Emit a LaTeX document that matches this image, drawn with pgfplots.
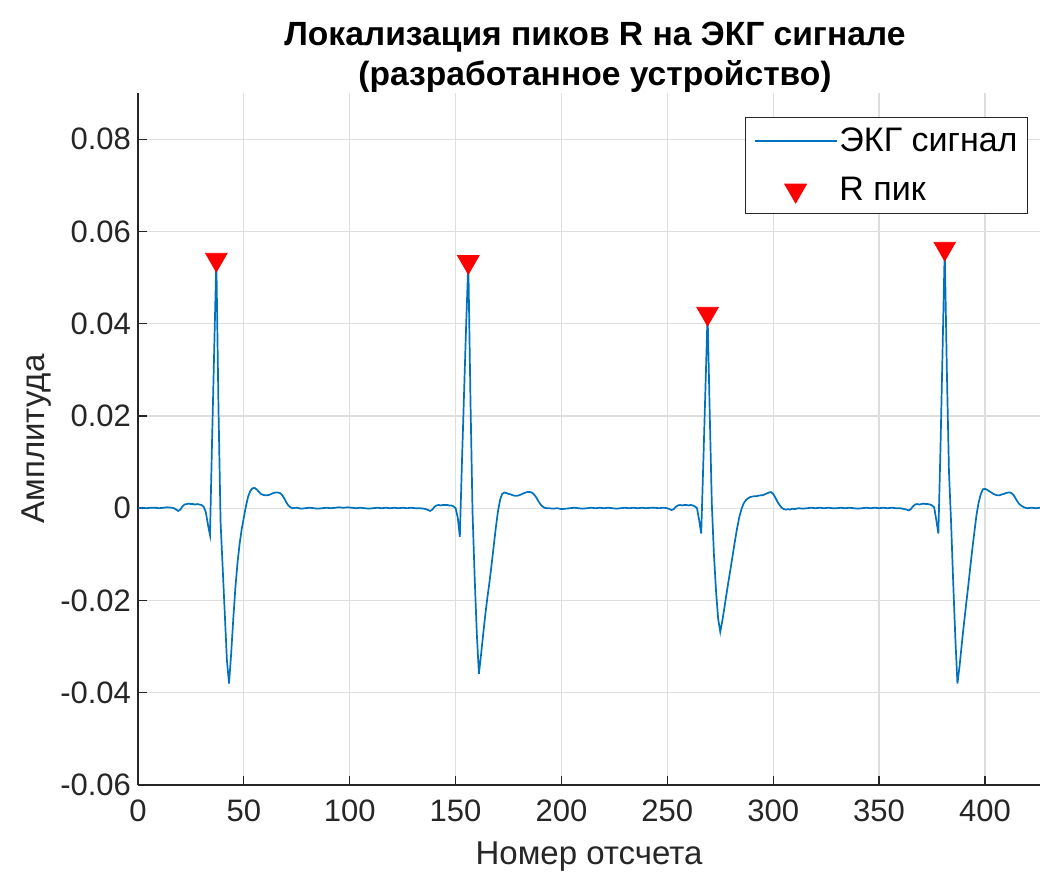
\documentclass[border=0pt]{standalone}
\usepackage{fontspec}
\setmainfont{Liberation Sans}
\usepackage{pgfplots}
\usepackage{pgfplotstable}
\pgfplotsset{compat=1.18}
\definecolor{ecg}{RGB}{0,114,189}
\definecolor{axgray}{RGB}{38,38,38}
\pgfplotsset{
  linelegend/.style={legend image code/.code={\draw[##1] (0pt,0pt) -- (41pt,0pt);}},
  marklegend/.style={legend image code/.code={\draw[mark repeat=2,mark phase=2,##1] plot coordinates {(0pt,0pt) (20.5pt,0pt) (41pt,0pt)};}},
}

\pgfplotstableread{
x y
0 0.0000
2 0.0001
4 0.0000
6 0.0001
8 0.0001
10 0.0000
12 0.0001
14 0.0002
16 0.0001
17 0.0000
18 -0.0003
19 -0.0006
20 -0.0003
21 0.0004
22 0.0008
23 0.0009
24 0.0010
25 0.0009
26 0.0009
27 0.0008
28 0.0009
29 0.0008
30 0.0007
31 0.0003
32 -0.0008
33 -0.0035
34 -0.0058
35 0.0150
36 0.0345
37 0.0539
38 0.0220
39 -0.0030
40 -0.0130
41 -0.0230
42 -0.0330
43 -0.0380
44 -0.0315
45 -0.0240
46 -0.0172
47 -0.0118
48 -0.0077
49 -0.0045
50 -0.0020
51 0.0005
52 0.0025
53 0.0037
54 0.0043
55 0.0044
56 0.0041
57 0.0036
58 0.0031
59 0.0029
60 0.0028
61 0.0028
62 0.0029
63 0.0031
64 0.0033
65 0.0034
66 0.0034
67 0.0033
68 0.0029
69 0.0022
70 0.0013
71 0.0006
72 0.0002
73 0.0000
75 0.0001
77 -0.0001
79 0.0000
81 0.0001
83 0.0000
85 -0.0001
87 0.0000
89 0.0001
91 0.0000
93 0.0001
95 0.0002
97 0.0001
99 0.0002
101 0.0001
103 0.0000
105 0.0001
107 0.0000
109 -0.0001
111 0.0000
113 0.0001
115 0.0000
117 0.0001
119 0.0000
121 0.0001
123 0.0000
125 0.0001
127 0.0000
129 0.0001
131 0.0000
133 0.0000
135 -0.0001
136 -0.0002
137 -0.0004
138 -0.0006
139 -0.0003
140 0.0003
141 0.0006
142 0.0007
143 0.0006
144 0.0007
145 0.0007
146 0.0007
147 0.0006
148 0.0006
149 0.0004
150 0.0000
151 -0.0020
152 -0.0062
153 0.0100
154 0.0250
155 0.0400
156 0.0534
157 0.0240
158 -0.0010
159 -0.0150
160 -0.0270
161 -0.0359
162 -0.0318
163 -0.0274
164 -0.0232
165 -0.0194
166 -0.0160
167 -0.0122
168 -0.0082
169 -0.0042
170 -0.0007
171 0.0018
172 0.0031
173 0.0034
174 0.0033
175 0.0031
176 0.0030
177 0.0028
178 0.0027
179 0.0027
180 0.0028
181 0.0030
182 0.0032
183 0.0034
184 0.0035
185 0.0035
186 0.0034
187 0.0030
188 0.0024
189 0.0016
190 0.0009
191 0.0004
192 0.0001
193 0.0000
194 0.0000
196 -0.0001
198 0.0000
200 -0.0002
202 -0.0001
204 0.0000
206 0.0001
208 0.0000
210 -0.0001
212 0.0000
214 0.0001
216 0.0000
218 0.0001
220 0.0000
222 0.0001
224 0.0000
226 -0.0001
228 0.0000
230 0.0001
232 0.0000
234 0.0001
236 0.0000
238 0.0001
240 0.0000
242 0.0001
244 0.0001
246 0.0000
248 0.0001
250 0.0000
251 -0.0002
252 -0.0004
253 -0.0002
254 0.0003
255 0.0006
256 0.0007
257 0.0006
258 0.0007
259 0.0007
260 0.0006
261 0.0007
262 0.0006
263 0.0004
264 0.0000
265 -0.0025
266 -0.0055
267 0.0100
268 0.0260
269 0.0422
270 0.0210
271 0.0010
272 -0.0100
273 -0.0180
274 -0.0240
275 -0.0268
276 -0.0243
277 -0.0214
278 -0.0184
279 -0.0155
280 -0.0127
281 -0.0098
282 -0.0069
283 -0.0042
284 -0.0019
285 -0.0002
286 0.0010
287 0.0017
288 0.0021
289 0.0024
290 0.0025
291 0.0026
292 0.0026
293 0.0027
294 0.0028
295 0.0028
296 0.0030
297 0.0032
298 0.0034
299 0.0035
300 0.0031
301 0.0023
302 0.0014
303 0.0007
304 0.0001
305 -0.0002
306 -0.0003
307 -0.0002
308 -0.0003
309 -0.0001
310 -0.0002
312 0.0000
314 -0.0001
316 0.0000
318 0.0001
320 0.0000
322 0.0001
324 0.0000
326 0.0001
328 0.0000
330 0.0000
332 0.0001
334 0.0000
336 0.0001
338 0.0000
340 -0.0001
342 0.0000
344 0.0001
346 0.0000
348 0.0001
350 0.0000
352 0.0001
354 0.0000
356 0.0001
358 0.0000
360 0.0000
362 -0.0002
363 -0.0003
364 -0.0005
365 -0.0002
366 0.0004
367 0.0008
368 0.0009
369 0.0008
370 0.0009
371 0.0010
372 0.0009
373 0.0009
374 0.0008
375 0.0006
376 0.0002
377 -0.0025
378 -0.0055
379 0.0130
380 0.0345
381 0.0563
382 0.0300
383 0.0080
384 -0.0030
385 -0.0160
386 -0.0280
387 -0.0380
388 -0.0343
389 -0.0297
390 -0.0254
391 -0.0213
392 -0.0173
393 -0.0131
394 -0.0090
395 -0.0052
396 -0.0015
397 0.0012
398 0.0030
399 0.0041
400 0.0042
401 0.0040
402 0.0037
403 0.0034
404 0.0031
405 0.0029
406 0.0028
407 0.0028
408 0.0030
409 0.0031
410 0.0033
411 0.0034
412 0.0034
413 0.0031
414 0.0025
415 0.0017
416 0.0010
417 0.0006
418 0.0003
419 0.0001
420 0.0000
422 0.0001
424 0.0000
426 0.0001
}\ecgdata

\pgfplotstableread{
x y
37 0.0539
156 0.0534
269 0.0422
381 0.0563
}\peakdata

\begin{document}
\begin{tikzpicture}
\begin{axis}[
  scale only axis,
  width=451pt, height=346pt,
  xmin=0, xmax=426, ymin=-0.06, ymax=0.09,
  axis x line*=bottom, axis y line*=left,
  axis line style={draw=axgray, line width=0.75pt, -},
  every outer x axis line/.append style={-},
  every outer y axis line/.append style={-},
  scaled y ticks=false, scaled x ticks=false,
  xtick={0,50,...,400},
  xticklabels={0,50,100,150,200,250,300,350,400},
  ytick={-0.06,-0.04,-0.02,0,0.02,0.04,0.06,0.08},
  yticklabels={-0.06,-0.04,-0.02,0,0.02,0.04,0.06,0.08},
  tick align=inside,
  major tick length=4.5pt,
  tick style={draw=axgray, line width=0.6pt},
  grid=major,
  grid style={draw=black!13, line width=0.6pt},
  ticklabel style={font=\fontsize{15.5}{18}\selectfont, text=axgray},
  xticklabel style={yshift=-4pt},
  xlabel={Номер отсчета},
  ylabel={Амплитуда},
  label style={font=\fontsize{16.5}{20}\selectfont, text=axgray},
  xlabel style={yshift=-3pt},
  ylabel style={yshift=-2.5pt},
  title={Локализация пиков R на ЭКГ сигнале\\(разработанное устройство)},
  title style={font=\bfseries\fontsize{16.8}{20}\selectfont, align=center, at={(0.5,1)}, anchor=south, inner sep=0pt, yshift=-6pt, xshift=3pt},
  legend style={at={(1,1)}, anchor=north east, xshift=-6pt, yshift=-12pt,
    draw=axgray, line width=0.5pt, fill=white,
    font=\fontsize{17}{20}\selectfont, text=black,
    inner xsep=4pt, inner ysep=2.5pt, row sep=6.5pt,
    nodes={inner xsep=1pt, inner ysep=2.5pt}},
  legend cell align=left,
]
\addplot[color=ecg, line width=0.85pt, no marks, linelegend]
  table[x=x, y=y] {\ecgdata};
\addlegendentry{ЭКГ сигнал}
\addplot[only marks, mark=triangle*, mark size=6.2pt,
  mark options={rotate=180, fill=red, draw=red}, marklegend]
  table[x=x, y=y] {\peakdata};
\addlegendentry{R пик}
\coordinate (SW) at (rel axis cs:0,0);
\coordinate (NE) at (rel axis cs:1,1);
\end{axis}
\pgfresetboundingbox
\path[use as bounding box] ([shift={(-69pt,-45pt)}]SW) rectangle ([shift={(0pt,46.5pt)}]NE);
\end{tikzpicture}
\end{document}
